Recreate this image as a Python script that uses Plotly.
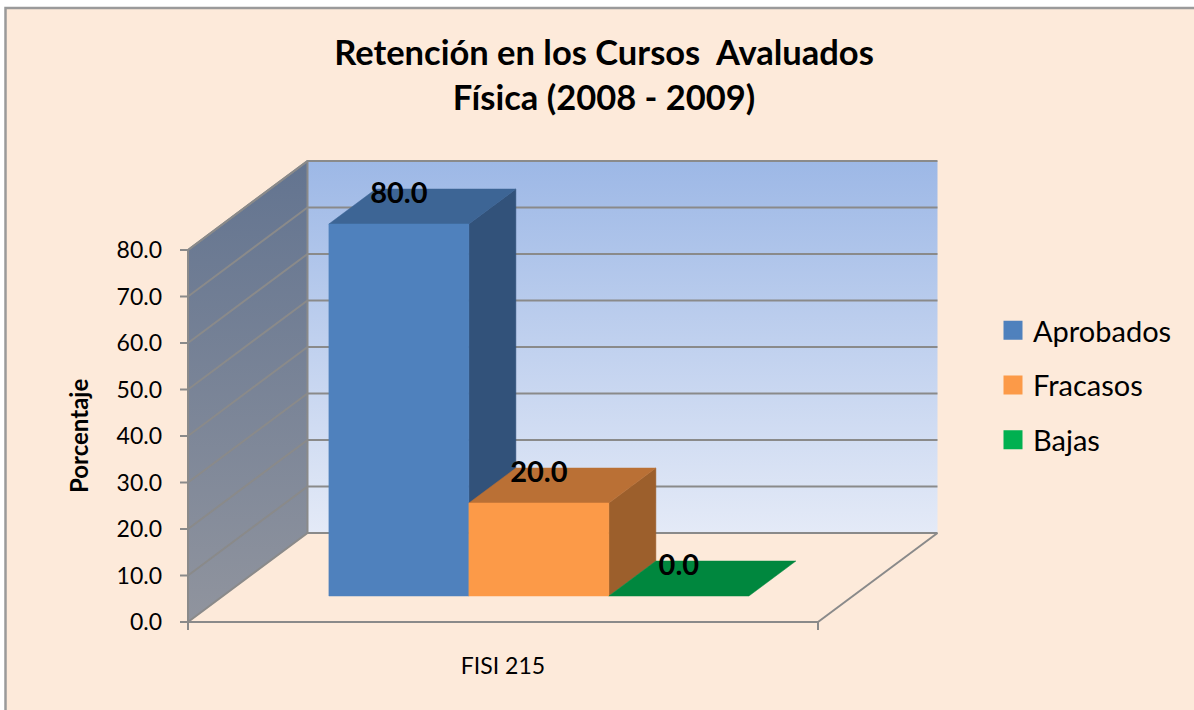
import plotly.graph_objects as go

# ---- data ----
categories = ["FISI 215"]
series_names = ["Aprobados", "Fracasos", "Bajas"]
series_values = [80.0, 20.0, 0.0]
y_ticks = [0, 10, 20, 30, 40, 50, 60, 70, 80]
front_colors = ["#4F81BD", "#FC9A48", "#00B050"]
top_colors = ["#3D6595", "#BA7035", "#00873E"]
side_colors = ["#32527A", "#9C5F2C", "#006B30"]

FONT = "Lato, Carlito, Calibri, sans-serif"
W, H = 1194, 710
X0, X1, Y0, Y1 = 178, 960, 632, 150   # plot area, px (with room for tick marks)
ZERO_X, ZERO_Y = 188, 622             # px of the axes' origin
PX_X = 630.0   # px per category
PX_Y = 4.65    # px per percent
# oblique projection of the depth axis, in data units
WALL_DX, WALL_DY = 119.5 / PX_X, 89.0 / PX_Y
BAR_W = 140.0 / PX_X
BAR_START = (329.0 - 188.0 - 35.0) / PX_X
FRONT_Z, BACK_Z = 0.292, 0.685   # floor depth of the bars, fraction of depth
TICK_X, TICK_Y = 8.0 / PX_X, 8.0 / PX_Y


def proj(x, y, z):
    return x + z * WALL_DX, y + z * WALL_DY


def poly(pts):
    xs, ys = zip(*[proj(*p) for p in pts + pts[:1]])
    return list(xs), list(ys)


fig = go.Figure()
GRID = "#8A8A8A"

# back wall
bx, by = poly([(0, 0, 1), (1, 0, 1), (1, 80, 1), (0, 80, 1)])
fig.add_trace(go.Scatter(x=bx, y=by, mode="none", fill="toself", showlegend=False,
                         hoverinfo="skip",
                         fillgradient=dict(type="vertical",
                                           colorscale=[[0, "#E4EAF7"], [1, "#9DB8E6"]])))
# side wall
sx, sy = poly([(0, 0, 0), (0, 0, 1), (0, 80, 1), (0, 80, 0)])
fig.add_trace(go.Scatter(x=sx, y=sy, mode="none", fill="toself", showlegend=False,
                         hoverinfo="skip",
                         fillgradient=dict(type="vertical",
                                           colorscale=[[0, "#90949E"], [1, "#637490"]])))
# gridlines on the walls
gx, gy = [], []
for t in y_ticks:
    xs, ys = zip(proj(0, t, 0), proj(0, t, 1), proj(1, t, 1))
    gx += list(xs) + [None]
    gy += list(ys) + [None]
    # y tick mark
    gx += [-TICK_X, 0, None]
    gy += [t, t, None]
# floor and axis edges
for a, b in [((1, 0, 1), (1, 0, 0)), ((1, 0, 0), (0, 0, 0)), ((0, 0, 0), (0, 80, 0)),
             ((0, 80, 0), (0, 80, 1)), ((0, 0, 1), (0, 80, 1))]:
    xs, ys = zip(proj(*a), proj(*b))
    gx += list(xs) + [None]
    gy += list(ys) + [None]
# category tick marks at both ends of the front edge
gx += [0, 0, None, 1, 1, None]
gy += [0, -TICK_Y, None, 0, -TICK_Y, None]
fig.add_trace(go.Scatter(x=gx, y=gy, mode="lines", line=dict(color=GRID, width=2),
                         showlegend=False, hoverinfo="skip"))

# bars
label_x, label_y = [], []
for i, (name, v) in enumerate(zip(series_names, series_values)):
    x0 = BAR_START + i * BAR_W
    x1 = x0 + BAR_W
    faces = [
        ([(x1, 0, FRONT_Z), (x1, 0, BACK_Z), (x1, v, BACK_Z), (x1, v, FRONT_Z)], side_colors[i]),
        ([(x0, v, FRONT_Z), (x1, v, FRONT_Z), (x1, v, BACK_Z), (x0, v, BACK_Z)], top_colors[i]),
        ([(x0, 0, FRONT_Z), (x1, 0, FRONT_Z), (x1, v, FRONT_Z), (x0, v, FRONT_Z)], front_colors[i]),
    ]
    for pts, col in faces:
        if v == 0 and col != top_colors[i]:
            continue
        fx, fy = poly(pts)
        fig.add_trace(go.Scatter(x=fx, y=fy, mode="lines", fill="toself", fillcolor=col,
                                 line=dict(color=col, width=0.5), showlegend=False,
                                 hoverinfo="skip"))
    lx, ly = proj((x0 + x1) / 2, v, FRONT_Z)
    label_x.append(lx)
    label_y.append(ly + 6.05)
    # legend entry
    fig.add_trace(go.Scatter(x=[None], y=[None], mode="markers", name=name,
                             legendgroup=name,
                             marker=dict(symbol="square", size=16, color=front_colors[i],
                                         line=dict(color=front_colors[i], width=3))))

# data labels
fig.add_trace(go.Scatter(x=label_x, y=label_y, mode="text",
                         text=[f"{v:.1f}" for v in series_values],
                         textposition="middle center",
                         textfont=dict(family=FONT, size=29, color="#000000", weight="bold"),
                         showlegend=False, hoverinfo="skip", cliponaxis=False))

fig.update_layout(
    width=W, height=H,
    margin=dict(l=0, r=0, t=0, b=0, pad=0, autoexpand=False),
    paper_bgcolor="#FFFFFF",
    plot_bgcolor="rgba(0,0,0,0)",
    font=dict(family=FONT, color="#000000"),
    title=dict(text="<b>Retención en los Cursos\u00a0\u00a0Avaluados<br>Física (2008 - 2009)</b>",
               x=604 / W, xanchor="center", y=1 - 65 / H, yanchor="top",
               font=dict(family=FONT, size=34.5, color="#000000")),
    xaxis=dict(domain=[X0 / W, X1 / W],
               range=[(X0 - ZERO_X) / PX_X, (X1 - ZERO_X) / PX_X], showgrid=False,
               zeroline=False, showline=False, ticks="",
               tickvals=[0.5], ticktext=categories, tickfont=dict(size=23), ticklabelstandoff=18),
    yaxis=dict(domain=[1 - Y0 / H, 1 - Y1 / H],
               range=[(ZERO_Y - Y0) / PX_Y, (ZERO_Y - Y1) / PX_Y], showgrid=False,
               zeroline=False, showline=False, ticks="",
               tickvals=y_ticks, ticktext=[f"{t:.1f}" for t in y_ticks],
               tickfont=dict(size=23), ticklabelstandoff=15),
    annotations=[dict(text="<b>Porcentaje</b>", xref="paper", yref="paper", xanchor="center",
                      x=79 / W, y=1 - 436 / H, textangle=-90, showarrow=False,
                      font=dict(family=FONT, size=24, color="#000000"))],
    legend=dict(x=993 / W, xanchor="left", y=1 - 305 / H, yanchor="top",
                font=dict(family=FONT, size=29, color="#000000"),
                traceorder="grouped", tracegroupgap=14, bgcolor="rgba(0,0,0,0)"),
    shapes=[dict(type="rect", xref="paper", yref="paper", layer="below",
                 x0=5.5 / W, x1=1.1, y0=-0.1, y1=1 - 8 / H,
                 fillcolor="#FDEADA", line=dict(color="#9A9A9A", width=2.5))],
)
fig.write_html("out.html", config={"displayModeBar": False},
               post_script="document.body.style.margin='0';"
                           "document.documentElement.style.overflow='hidden';")
